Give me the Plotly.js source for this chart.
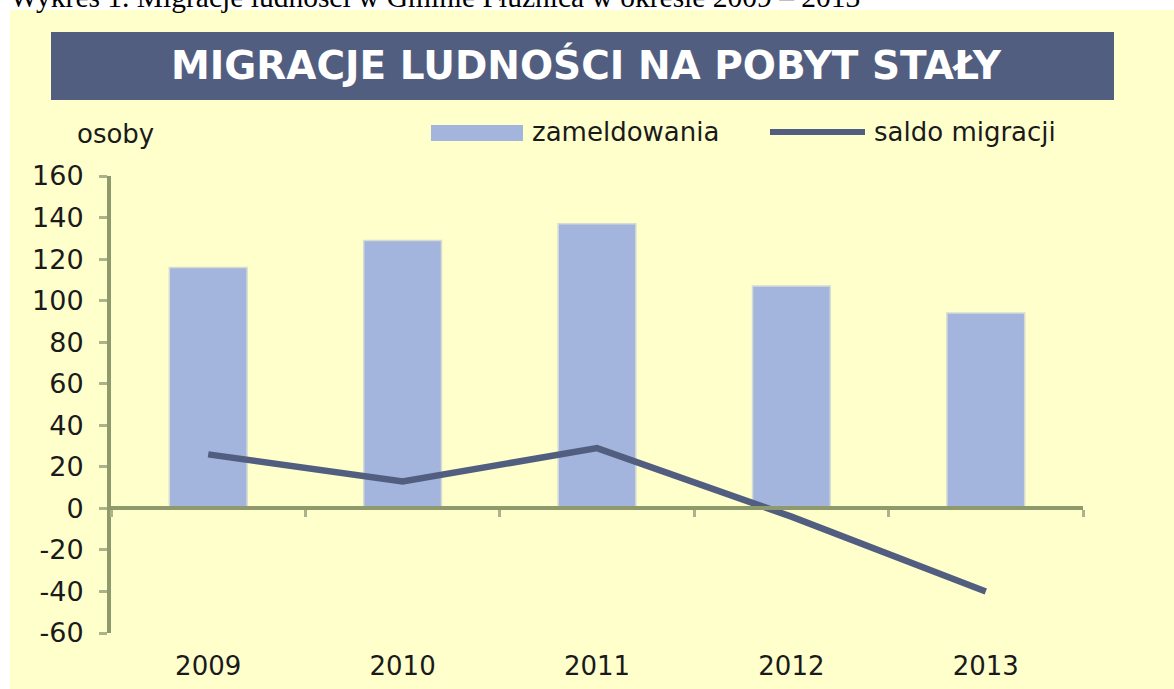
<!DOCTYPE html>
<html>
<head>
<meta charset="utf-8">
<script src="https://cdn.plot.ly/plotly-3.0.1.min.js"></script>
<style>html,body{margin:0;padding:0;background:#fff;}</style>
</head>
<body>
<div id="chart" style="width:1174px;height:689px;"></div>
<script>
// ---- data ----
const categories = ['2009', '2010', '2011', '2012', '2013'];
const zameldowania = [116, 129, 137, 107, 94];
const saldoMigracji = [26, 13, 29, -4, -40];
const yTickValues = [-60, -40, -20, 0, 20, 40, 60, 80, 100, 120, 140, 160];
const yTickLabels = ['-60', '-40', '-20', '0', '20', '40', '60', '80', '100', '120', '140', '160'];
const seriesNames = ['zameldowania', 'saldo migracji'];
const chartTitle = 'MIGRACJE LUDNOŚCI NA POBYT STAŁY';
const unitLabel = 'osoby';
const captionText = 'Wykres 1. Migracje ludności w Gminie Płużnica w okresie 2009 – 2013';

// ---- style ----
const W = 1174, H = 689;
const M = {l: 111, r: 91, t: 176, b: 56};
const barColor = '#A3B5DD';
const lineColor = '#525E80';
const axisColor = '#8E9A6B';
const tickColor = '#AAB38C';
const panelColor = '#FFFFCC';
const textColor = '#1a1a1a';
const FONT = 'DejaVu Sans, sans-serif';

const pw = W - M.l - M.r, ph = H - M.t - M.b;
const px = x => (x - M.l) / pw;
const py = y => (H - M.b - y) / ph;

const traces = [
  {
    type: 'bar', name: seriesNames[0], x: categories, y: zameldowania,
    marker: {color: barColor, line: {color: '#D6DBD4', width: 1.5}},
    xaxis: 'x', yaxis: 'y', hoverinfo: 'x+y'
  },
  {
    type: 'scatter', mode: 'lines', name: seriesNames[1], x: categories, y: saldoMigracji,
    line: {color: lineColor, width: 6.5},
    xaxis: 'x2', yaxis: 'y', hoverinfo: 'x+y'
  }
];

const layout = {
  width: W, height: H,
  margin: M,
  paper_bgcolor: '#ffffff',
  plot_bgcolor: 'rgba(0,0,0,0)',
  showlegend: false,
  bargap: 0.6,
  font: {family: FONT, color: textColor, size: 26},
  title: {
    text: chartTitle,
    font: {family: 'DejaVu Sans, sans-serif', size: 39, color: '#ffffff', weight: 'bold'},
    xref: 'paper', x: px(586), xanchor: 'center',
    yref: 'container', y: 1 - 65 / H, yanchor: 'middle'
  },
  xaxis: {
    type: 'category', range: [-0.5, 4.5],
    showline: false, ticks: '', showgrid: false, zeroline: false,
    tickfont: {family: FONT, size: 26, color: textColor},
    ticklabelstandoff: 15
  },
  xaxis2: {
    type: 'category', overlaying: 'x', anchor: 'free', position: 60 / 220,
    range: [-0.5, 4.5], showticklabels: false, showgrid: false, zeroline: false,
    showline: true, linecolor: axisColor, linewidth: 4,
    ticks: 'outside', tickson: 'boundaries', ticklen: 7, tickwidth: 3, tickcolor: tickColor
  },
  yaxis: {
    range: [-60, 160], tickvals: yTickValues, ticktext: yTickLabels,
    showline: true, linecolor: axisColor, linewidth: 4,
    ticks: 'outside', ticklen: 8, tickwidth: 3, tickcolor: tickColor,
    showgrid: false, zeroline: false,
    tickfont: {family: FONT, size: 27, color: textColor},
    ticklabelstandoff: 10
  },
  shapes: [
    // yellow panel
    {type: 'rect', xref: 'paper', yref: 'paper', layer: 'below',
     x0: px(10), x1: px(1180), y0: py(700), y1: py(10),
     fillcolor: panelColor, line: {width: 0}},
    // title banner
    {type: 'rect', xref: 'paper', yref: 'paper', layer: 'below',
     x0: px(51), x1: px(1114), y0: py(100), y1: py(32),
     fillcolor: lineColor, line: {width: 0}},
    // legend swatch: bars
    {type: 'rect', xref: 'paper', yref: 'paper',
     x0: px(431), x1: px(523), y0: py(141), y1: py(125),
     fillcolor: barColor, line: {width: 0}},
    // legend swatch: line
    {type: 'line', xref: 'paper', yref: 'paper',
     x0: px(770), x1: px(865), y0: py(132), y1: py(132),
     line: {color: lineColor, width: 6}}
  ],
  annotations: [
    {text: captionText, xref: 'paper', yref: 'paper', x: px(8), y: py(15),
     xanchor: 'left', yanchor: 'bottom', showarrow: false,
     font: {family: 'Liberation Serif, Times New Roman, serif', size: 29.5, color: '#000'}},
    {text: unitLabel, xref: 'paper', yref: 'paper', x: px(115), y: py(134),
     xanchor: 'center', yanchor: 'middle', showarrow: false,
     font: {family: FONT, size: 26, color: textColor}},
    {text: seriesNames[0], xref: 'paper', yref: 'paper', x: px(530), y: py(132),
     xanchor: 'left', yanchor: 'middle', showarrow: false,
     font: {family: FONT, size: 26, color: textColor}},
    {text: seriesNames[1], xref: 'paper', yref: 'paper', x: px(872), y: py(132),
     xanchor: 'left', yanchor: 'middle', showarrow: false,
     font: {family: FONT, size: 26, color: textColor}}
  ]
};

Plotly.newPlot('chart', traces, layout, {displayModeBar: false, staticPlot: true});
</script>
</body>
</html>
